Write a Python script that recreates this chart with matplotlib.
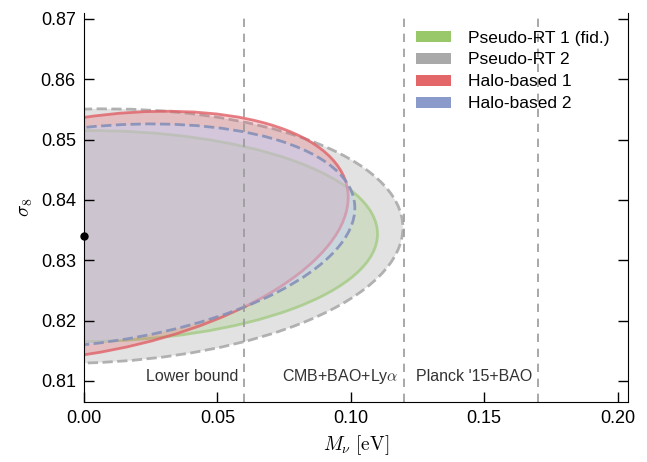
import numpy as np
import matplotlib
matplotlib.use("Agg")
import matplotlib.pyplot as plt
from matplotlib.patches import Ellipse, Patch

plt.rcParams['font.family'] = ['Liberation Sans', 'DejaVu Sans']
plt.rcParams['mathtext.fontset'] = 'cm'

# fiducial point
mnu_fid = 0.0
s8_fid = 0.834

# contours: semi-extent in M_nu, semi-extent in sigma_8, correlation
names = ['Pseudo-RT 1 (fid.)', 'Pseudo-RT 2', 'Halo-based 1', 'Halo-based 2']
colors = ['#8ec25a', '#a0a0a0', '#e05558', '#7d8fc6']
sig_mnu = [0.110, 0.1195, 0.099, 0.1015]
sig_s8 = [0.0175, 0.0211, 0.0207, 0.0186]
rho = [0.02, 0.066, 0.31, 0.25]

# experimental bounds
bounds = [0.06, 0.12, 0.17]
bound_labels = ['Lower bound', r'CMB+BAO+Ly$\alpha$', "Planck '15+BAO"]

fig = plt.figure(figsize=(6.47, 4.62), dpi=100)
ax = fig.add_axes([0.13, 0.13, 0.841, 0.842])

# drawing order and look of each contour
order = [1, 0, 2, 3]
fills = {0: ('#8cc35a', 0.2), 1: ('#a0a0a0', 0.3),
         2: ('#e65a64', 0.25), 3: ('#c3d2fa', 0.45)}
edges = {0: ('#9cc878', '-', 0.7), 1: ('#aaaaaa', '--', 0.9),
         2: ('#e06066', '-', 0.8), 3: ('#8590b8', '--', 0.9)}
for i in order:
    a, b, r = sig_mnu[i], sig_s8[i], rho[i]
    cov = np.array([[a * a, r * a * b], [r * a * b, b * b]])
    vals, vecs = np.linalg.eigh(cov)
    ang = np.degrees(np.arctan2(vecs[1, 1], vecs[0, 1]))
    w, h = 2 * np.sqrt(vals[1]), 2 * np.sqrt(vals[0])
    fc, fa = fills[i]
    ec, ls, ea = edges[i]
    ax.add_patch(Ellipse((mnu_fid, s8_fid), w, h, angle=ang,
                         facecolor=fc, alpha=fa, edgecolor='none'))
    ax.add_patch(Ellipse((mnu_fid, s8_fid), w, h, angle=ang,
                         facecolor='none', edgecolor=ec, alpha=ea,
                         lw=2, ls=ls))

ax.plot([mnu_fid], [s8_fid], 'o', color='k', ms=5, clip_on=False, zorder=10)

for xb, lab in zip(bounds, bound_labels):
    ax.axvline(xb, color='#999999', ls='--', lw=1.2, dashes=(5, 4))
    ax.text(xb - 0.002, 0.8107, lab, ha='right', va='center', fontsize=11.5,
            color='#333333')

ax.set_xlim(0, 0.204)
ax.set_ylim(0.8065, 0.871)
ax.set_xticks([0.00, 0.05, 0.10, 0.15, 0.20])
ax.set_yticks([0.81, 0.82, 0.83, 0.84, 0.85, 0.86, 0.87])
ax.set_xticklabels(['0.00', '0.05', '0.10', '0.15', '0.20'])
ax.spines['top'].set_visible(False)
ax.tick_params(axis='both', direction='in', length=7, width=1, labelsize=13,
               right=True, top=False, pad=6)
ax.set_xlabel(r'$M_\nu\ [\mathrm{eV}]$', fontsize=14)
ax.set_ylabel(r'$\sigma_8$', fontsize=14)

handles = [Patch(facecolor=c, edgecolor='none', alpha=0.9) for c in colors]
ax.legend(handles, names, loc='upper right', frameon=False, fontsize=12.5,
          handlelength=2.0, handleheight=0.6, labelspacing=0.4,
          handletextpad=1.0, bbox_to_anchor=(0.995, 0.995))

fig.savefig('out.png', dpi=100)
